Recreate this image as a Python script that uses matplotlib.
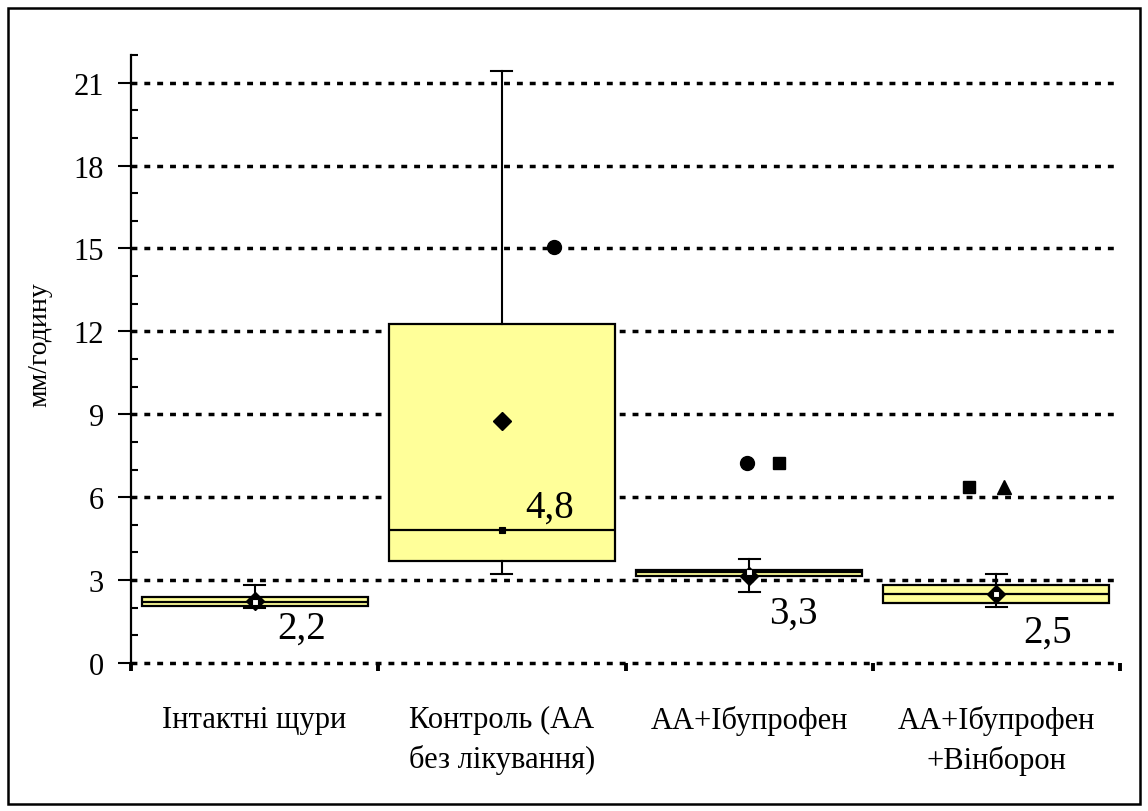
import matplotlib
matplotlib.use('Agg')
import matplotlib.pyplot as plt
from matplotlib.patches import Rectangle

plt.rcParams['font.family'] = ['Liberation Serif', 'DejaVu Serif']

# groups and box statistics (mm/hour)
categories = ['Інтактні щури', 'Контроль (АА\nбез лікування)', 'АА+Ібупрофен', 'АА+Ібупрофен\n+Вінборон']
q1 = [2.06, 3.70, 3.16, 2.17]
q3 = [2.39, 12.27, 3.37, 2.82]
medians = [2.2, 4.8, 3.3, 2.5]
means = [2.25, 8.74, 3.14, 2.5]
whis_lo = [2.0, 3.22, 2.57, 2.03]
whis_hi = [2.82, 21.43, 3.77, 3.22]
median_labels = ['2,2', '4,8', '3,3', '2,5']

# single extreme points shown next to the boxes
extra_x = [1.21, 1.99, 2.12, 2.89, 3.03]
extra_y = [15.06, 7.24, 7.24, 6.37, 6.37]
extra_markers = ['o', 'o', 's', 's', '^']

y_ticks = [0, 3, 6, 9, 12, 15, 18, 21]

# label placement (pixels from median point) and median marker colour
label_offsets = [(47, -26), (48, 23), (44, -41), (51, -38)]
median_marker_colors = ['white', 'black', 'white', 'white']

fig = plt.figure(figsize=(11.48, 8.12), dpi=100)
ax = fig.add_axes([131 / 1148, 1 - 664 / 812, (1120 - 131) / 1148, (664 - 56) / 812])

stats = []
for i in range(len(categories)):
    stats.append(dict(med=medians[i], q1=q1[i], q3=q3[i], whislo=whis_lo[i],
                      whishi=whis_hi[i], mean=means[i], fliers=[]))

ax.bxp(stats, positions=range(len(categories)), widths=0.914, patch_artist=True,
       showmeans=True, capwidths=0.085,
       boxprops=dict(facecolor='#FFFF99', edgecolor='black', linewidth=1.6),
       medianprops=dict(color='black', linewidth=1.6),
       whiskerprops=dict(color='black', linewidth=1.5),
       capprops=dict(color='black', linewidth=1.5),
       meanprops=dict(marker='D', markerfacecolor='black', markeredgecolor='black', markersize=9),
       zorder=3)

for i in range(len(categories)):
    ax.plot(i, medians[i], 's', color=median_marker_colors[i], markeredgecolor='black',
            markeredgewidth=0.8, markersize=5, zorder=5)

for x, y, m in zip(extra_x, extra_y, extra_markers):
    ax.plot(x, y, m, color='black', markersize=10 if m != 's' else 9, zorder=5)

for i, lab in enumerate(median_labels):
    ax.annotate(lab, (i, medians[i]), xytext=label_offsets[i], textcoords='offset pixels',
                ha='center', va='center', fontsize=28, zorder=6)

# dotted grid
for y in y_ticks:
    ax.axhline(y, color='black', linewidth=2.5, linestyle=(0, (1.7, 2.0)),
               dash_capstyle='butt', zorder=1, clip_on=False)

ax.set_xlim(-0.5, len(categories) - 0.5)
ax.set_ylim(0, 22)
ax.set_yticks(y_ticks)
ax.set_yticks(range(0, 23), minor=True)
ax.tick_params(axis='y', which='major', direction='out', length=9.5, width=1.5,
               labelsize=22, pad=10)
ax.tick_params(axis='y', which='minor', direction='in', length=5, width=1.5)

ax.set_xticks(range(len(categories)))
ax.set_xticklabels(categories, fontsize=22, linespacing=1.45, va='top')
ax.set_xticks([i - 0.5 for i in range(len(categories) + 1)], minor=True)
ax.tick_params(axis='x', which='major', length=0, pad=30)
ax.tick_params(axis='x', which='minor', direction='out', length=6, width=2.8)

for s in ['top', 'right', 'bottom']:
    ax.spines[s].set_visible(False)
ax.spines['left'].set_linewidth(1.6)

fig.text(40 / 1148, 1 - 345 / 812, 'мм/годину', rotation=90, ha='center', va='center', fontsize=20)

fig.patches.append(Rectangle((8 / 1148, 1 - 805 / 812), 1132 / 1148, 796 / 812,
                             transform=fig.transFigure, fill=False, edgecolor='black',
                             linewidth=1.8))

fig.savefig('out.png', dpi=100)
